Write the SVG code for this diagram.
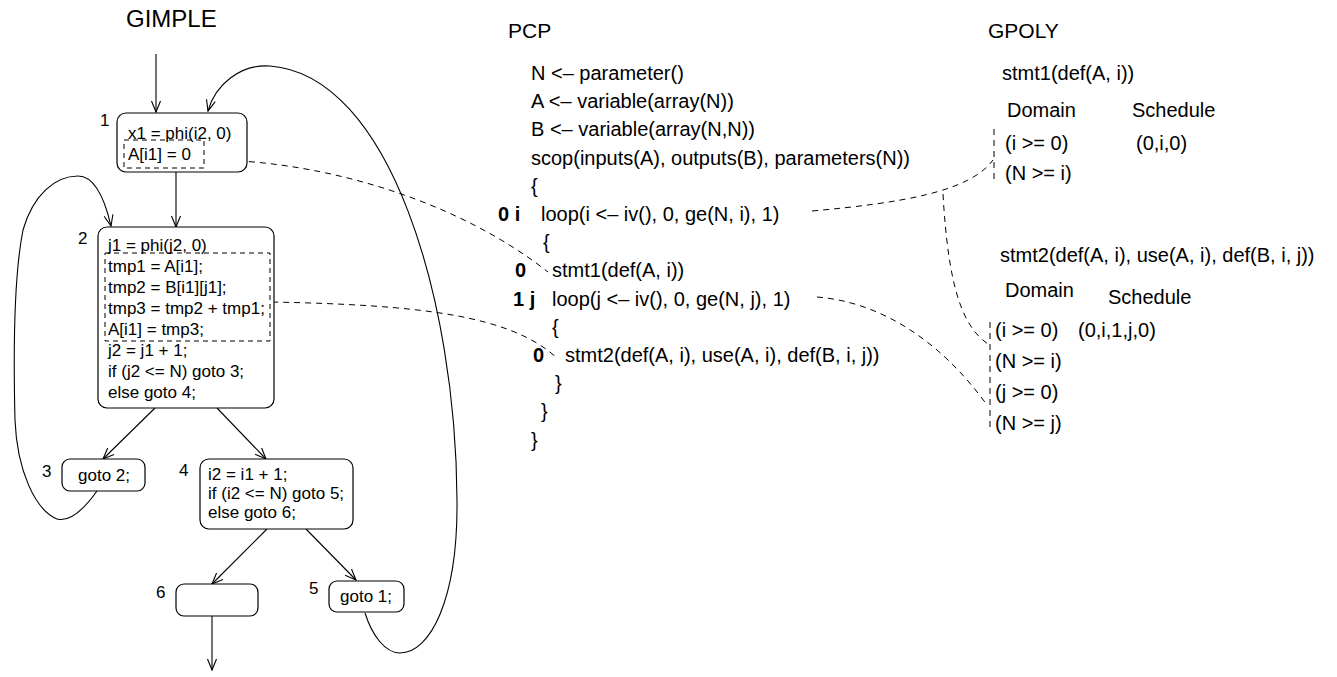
<svg xmlns="http://www.w3.org/2000/svg" width="1337" height="677" viewBox="0 0 1337 677">
<defs>
<style>
text{font-family:"Liberation Sans",Arial,Helvetica,sans-serif;fill:#000}
.title{font-size:21px}
.big{font-size:24px}
.g{font-size:17px}
.p{font-size:20px}
.b{font-size:20px;font-weight:bold}
.node{fill:#fff;stroke:#000;stroke-width:1.2}
.dbox{fill:none;stroke:#000;stroke-width:1;stroke-dasharray:5,4}
.edge{fill:none;stroke:#000;stroke-width:1.1}
.dash{fill:none;stroke:#000;stroke-width:1;stroke-dasharray:6,5}
</style>
<marker id="arr" markerUnits="userSpaceOnUse" markerWidth="14" markerHeight="12" viewBox="0 0 14 12" refX="12" refY="6" orient="auto">
<path d="M1,1.5 L12,6 L1,10.5" fill="none" stroke="#000" stroke-width="1.1"/>
</marker>
</defs>
<rect width="1337" height="677" fill="#fff"/>

<text class="big" x="126" y="27">GIMPLE</text>
<text class="title" x="508" y="38">PCP</text>
<text class="title" x="988" y="38">GPOLY</text>

<g id="connectors">
<path class="edge" d="M156,54 L156,112" marker-end="url(#arr)"/>
<path class="edge" d="M176,172 L176,227" marker-end="url(#arr)"/>
<path class="edge" d="M155,408 L103,459" marker-end="url(#arr)"/>
<path class="edge" d="M217,408 L266,459" marker-end="url(#arr)"/>
<path class="edge" d="M267,529 L212,584" marker-end="url(#arr)"/>
<path class="edge" d="M306,529 L356,580" marker-end="url(#arr)"/>
<path class="edge" d="M212,616 L212,670" marker-end="url(#arr)"/>
<path class="edge" d="M97,491 C82,512 68,522 57,519 C35,510 17,470 15,420 C13,340 15,270 23,230 C33,195 55,176 78,176 C95,176 105,200 111,226" marker-end="url(#arr)"/>
<path class="edge" d="M365,613 C372,635 385,653 400,653 C430,653 458,600 457,500 C456,300 390,75 270,66 C240,64 215,85 208,111" marker-end="url(#arr)"/>
<path class="dash" d="M205,160 C310,159 450,195 548,272"/>
<path class="dash" d="M272,302 C420,305 510,315 557,358"/>
<path class="dash" d="M812,211 C900,203 970,192 993,160"/>
<path class="dash" d="M943,194 C948,280 960,325 988,344"/>
<path class="dash" d="M817,297 C880,302 940,340 987,405"/>
<path class="dash" d="M994,129 L994,183"/>
<path class="dash" d="M990,322 L990,432"/>
</g>

<g id="n1">
<rect class="node" x="117" y="113" width="130" height="59" rx="9"/>
<rect class="dbox" x="124" y="140" width="80" height="28"/>
<text class="g" x="100" y="126">1</text>
<text class="g" x="128" y="139">x1 = phi(i2, 0)</text>
<text class="g" x="128" y="160">A[i1] = 0</text>
</g>

<g id="n2">
<rect class="node" x="98" y="227" width="176" height="181" rx="9"/>
<rect class="dbox" x="105" y="253" width="165" height="88"/>
<text class="g" x="78" y="244">2</text>
<text class="g" x="108" y="251">j1 = phi(j2, 0)</text>
<text class="g" x="108" y="272">tmp1 = A[i1];</text>
<text class="g" x="108" y="293">tmp2 = B[i1][j1];</text>
<text class="g" x="108" y="314">tmp3 = tmp2 + tmp1;</text>
<text class="g" x="108" y="335">A[i1] = tmp3;</text>
<text class="g" x="108" y="356">j2 = j1 + 1;</text>
<text class="g" x="108" y="377">if (j2 &lt;= N) goto 3;</text>
<text class="g" x="108" y="398">else goto 4;</text>
</g>

<g id="n3">
<rect class="node" x="62" y="459" width="83" height="32" rx="8"/>
<text class="g" x="42" y="477">3</text>
<text class="g" x="78" y="481">goto 2;</text>
</g>

<g id="n4">
<rect class="node" x="200" y="459" width="153" height="70" rx="9"/>
<text class="g" x="179" y="476">4</text>
<text class="g" x="208" y="480">i2 = i1 + 1;</text>
<text class="g" x="208" y="499">if (i2 &lt;= N) goto 5;</text>
<text class="g" x="208" y="518">else goto 6;</text>
</g>

<g id="n6">
<rect class="node" x="176" y="584" width="82" height="32" rx="8"/>
<text class="g" x="156" y="598">6</text>
</g>

<g id="n5">
<rect class="node" x="329" y="581" width="75" height="31" rx="8"/>
<text class="g" x="309" y="594">5</text>
<text class="g" x="340" y="602">goto 1;</text>
</g>

<g id="pcp">
<text class="p" x="531" y="80">N &lt;– parameter()</text>
<text class="p" x="531" y="108">A &lt;– variable(array(N))</text>
<text class="p" x="531" y="136">B &lt;– variable(array(N,N))</text>
<text class="p" x="531" y="165">scop(inputs(A), outputs(B), parameters(N))</text>
<text class="p" x="531" y="193">{</text>
<text class="b" x="498" y="221">0 i</text>
<text class="p" x="541" y="221">loop(i &lt;– iv(), 0, ge(N, i), 1)</text>
<text class="p" x="543" y="249">{</text>
<text class="b" x="515" y="277">0</text>
<text class="p" x="552" y="277">stmt1(def(A, i))</text>
<text class="b" x="513" y="306">1 j</text>
<text class="p" x="552" y="306">loop(j &lt;– iv(), 0, ge(N, j), 1)</text>
<text class="p" x="552" y="334">{</text>
<text class="b" x="533" y="362">0</text>
<text class="p" x="565" y="362">stmt2(def(A, i), use(A, i), def(B, i, j))</text>
<text class="p" x="555" y="390">}</text>
<text class="p" x="541" y="418">}</text>
<text class="p" x="531" y="447">}</text>
</g>

<g id="gpoly1">
<text class="p" x="1002" y="80">stmt1(def(A, i))</text>
<text class="p" x="1007" y="117">Domain</text>
<text class="p" x="1132" y="117">Schedule</text>
<text class="p" x="1005" y="150">(i &gt;= 0)</text>
<text class="p" x="1136" y="150">(0,i,0)</text>
<text class="p" x="1005" y="180">(N &gt;= i)</text>
</g>

<g id="gpoly2">
<text class="p" x="1000" y="262">stmt2(def(A, i), use(A, i), def(B, i, j))</text>
<text class="p" x="1005" y="297">Domain</text>
<text class="p" x="1108" y="304">Schedule</text>
<text class="p" x="995" y="337">(i &gt;= 0)</text>
<text class="p" x="1078" y="337">(0,i,1,j,0)</text>
<text class="p" x="995" y="368">(N &gt;= i)</text>
<text class="p" x="995" y="399">(j &gt;= 0)</text>
<text class="p" x="995" y="430">(N &gt;= j)</text>
</g>
</svg>
